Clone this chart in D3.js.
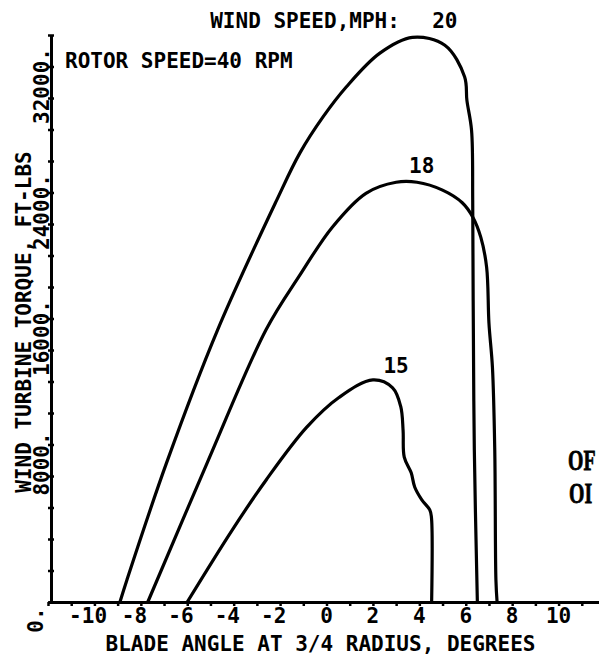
<!DOCTYPE html>
<html>
<head>
<meta charset="utf-8">
<script src="https://cdn.jsdelivr.net/npm/d3@7"></script>
<style>
  body { margin: 0; background: #fff; }
  svg text { font-family: "DejaVu Sans Mono", monospace; font-weight: bold; fill: #000; }
  svg text.stamp { font-family: "Liberation Serif", serif; font-weight: bold; }
</style>
</head>
<body>
<div id="chart"></div>
<script>
// wind speeds, mph
const speeds = [15, 18, 20];

// blade angle (deg) and torque (ft-lbs)
const angle15 = [-6.0, -4.05, -2.6, -0.85, 0.55, 2.0, 2.85, 3.2, 3.3, 3.35, 3.65, 3.8, 4.1, 4.45, 4.52, 4.53];
const torque15 = [0, 4600, 7750, 11100, 13000, 14100, 13600, 12400, 10900, 9200, 8200, 7300, 6500, 5850, 5400, 0];

const angle18 = [-7.7, -5.15, -2.6, -1.15, 0.25, 1.7, 3.0, 3.9, 5.0, 5.85, 6.3, 6.65, 6.9, 7.0, 7.15, 7.25, 7.3, 7.35];
const torque18 = [0, 8800, 17300, 20750, 23800, 25950, 26650, 26650, 26150, 25350, 24450, 23150, 21250, 17700, 14900, 9650, 1400, 0];

const angle20 = [-8.9, -8.6, -6.9, -4.7, -2.15, -1.15, -0.15, 0.85, 2.3, 3.7, 5.1, 5.95, 6.05, 6.25, 6.3, 6.32, 6.37, 6.5];
const torque20 = [0, 1400, 8800, 17250, 25500, 28500, 30800, 32700, 34850, 35850, 35350, 33350, 31850, 29950, 25500, 19150, 9650, 0];

// where each speed label sits (data units)
const labelAngle = [3.0, 4.1, 5.1];
const labelTorque = [14540, 27240, 36440];

const xTickValues = [-10, -8, -6, -4, -2, 0, 2, 4, 6, 8, 10];
const yTickValues = [0, 8000, 16000, 24000, 32000];

const width = 599, height = 655;

const x = d3.scaleLinear().domain([-12, 12]).range([48, 605]);
const y = d3.scaleLinear().domain([0, 36000]).range([602, 35]);

const svg = d3.select("#chart").append("svg")
  .attr("width", width)
  .attr("height", height)
  .attr("viewBox", `0 0 ${width} ${height}`);

// x axis: line plus a small tick every degree
const xAxis = d3.axisBottom(x)
  .tickValues(d3.range(-12, 13, 1))
  .tickSizeInner(4)
  .tickSizeOuter(0)
  .tickFormat("");
const gx = svg.append("g")
  .attr("transform", `translate(0,${y(0)})`)
  .call(xAxis);
gx.select(".domain").attr("stroke", "#000").attr("stroke-width", 3);
gx.selectAll(".tick line").attr("stroke", "#000").attr("stroke-width", 2.5);

// y axis at the left edge, ticks every 2000 across the line
const axisX = 51;
const yAxis = d3.axisLeft(y)
  .tickValues(d3.range(0, 36001, 2000))
  .tickSizeInner(3)
  .tickSizeOuter(0)
  .tickFormat("");
const gy = svg.append("g")
  .attr("transform", `translate(${axisX},0)`)
  .call(yAxis);
gy.select(".domain").attr("stroke", "#000").attr("stroke-width", 3);
gy.selectAll(".tick line")
  .attr("x1", 3)
  .attr("stroke", "#000").attr("stroke-width", 2.5);

// x tick labels: digits centred on the tick, minus sign hangs left
const charW = 12.64;
svg.append("g").selectAll("text")
  .data(xTickValues)
  .enter()
  .append("text")
  .attr("x", d => {
    if (d < 0) {
      const nd = String(Math.abs(d)).length;
      return x(d) + nd * charW / 2;
    }
    return x(d);
  })
  .attr("y", 623)
  .attr("text-anchor", d => d < 0 ? "end" : "middle")
  .attr("font-size", 21)
  .text(d => d);

// y tick labels, turned to read upward
svg.append("g").selectAll("text")
  .data(yTickValues)
  .enter()
  .append("text")
  .attr("transform", d => {
    if (d == 0) {
      return `translate(43,620) rotate(-90)`;
    }
    return `translate(49,${y(d) - 12}) rotate(-90)`;
  })
  .attr("text-anchor", "middle")
  .attr("font-size", 21)
  .text(d => d + ".");

// axis titles
svg.append("text")
  .attr("x", (x(-12) + 599) / 2 - 3)
  .attr("y", 651)
  .attr("text-anchor", "middle")
  .attr("font-size", 21)
  .text("BLADE ANGLE AT 3/4 RADIUS, DEGREES");

svg.append("text")
  .attr("transform", `translate(31,322) rotate(-90)`)
  .attr("text-anchor", "middle")
  .attr("font-size", 21)
  .text("WIND TURBINE TORQUE, FT-LBS");

svg.append("text")
  .attr("x", 65)
  .attr("y", 68)
  .attr("font-size", 21)
  .text("ROTOR SPEED=40 RPM");

// curves
const curves = [
  { speed: speeds[0], pts: angle15.map((a, i) => [a, torque15[i]]) },
  { speed: speeds[1], pts: angle18.map((a, i) => [a, torque18[i]]) },
  { speed: speeds[2], pts: angle20.map((a, i) => [a, torque20[i]]) }
];

const line = d3.line()
  .x(d => x(d[0]))
  .y(d => y(d[1]))
  .curve(d3.curveCatmullRom.alpha(0.5));

svg.append("g").selectAll("path")
  .data(curves)
  .enter()
  .append("path")
  .attr("d", d => line(d.pts))
  .attr("fill", "none")
  .attr("stroke", "#000")
  .attr("stroke-width", 3.2)
  .attr("stroke-linejoin", "round");

// speed labels on the curves
svg.append("g").selectAll("text")
  .data(speeds)
  .enter()
  .append("text")
  .attr("x", (d, i) => x(labelAngle[i]))
  .attr("y", (d, i) => y(labelTorque[i]))
  .attr("text-anchor", "middle")
  .attr("font-size", 21)
  .text(d => d);

// heading that leads into the top label
svg.append("text")
  .attr("x", x(labelAngle[2]) - 45)
  .attr("y", y(labelTorque[2]))
  .attr("text-anchor", "end")
  .attr("font-size", 21)
  .text("WIND SPEED,MPH:");

// stamp at the page edge, narrowed so it stays on the page
const stamp = svg.append("g")
  .attr("font-size", 30)
  .attr("stroke", "#000")
  .attr("stroke-width", 0.8);
stamp.append("text")
  .attr("class", "stamp")
  .attr("transform", "translate(568,470) scale(0.66,1)")
  .text("OF");
stamp.append("text")
  .attr("class", "stamp")
  .attr("transform", "translate(569,503) scale(0.66,1)")
  .text("OI");
</script>
</body>
</html>
